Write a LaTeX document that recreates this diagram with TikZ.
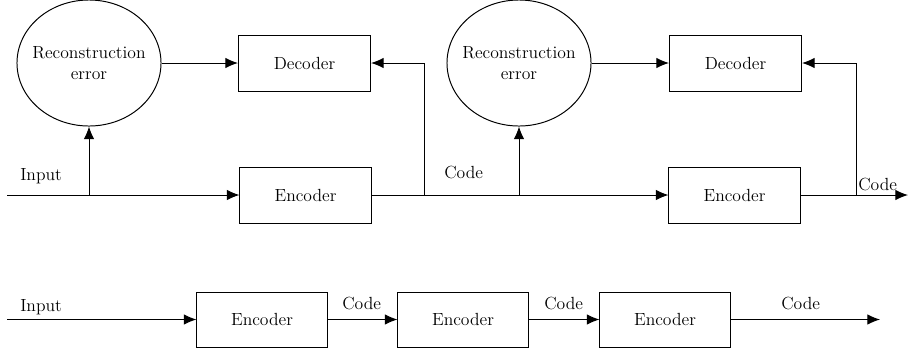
\documentclass[tikz,border=0pt]{standalone}
\usetikzlibrary{arrows.meta,shapes.geometric}

\newcommand{\blockfont}{\fontsize{12.5}{15}\selectfont}

\tikzset{
	block/.style={draw, rectangle, line width=0.7pt, minimum width=3.3cm, minimum height=1.4cm, font=\blockfont},
	errnode/.style={draw, ellipse, line width=0.7pt, inner xsep=-6pt, inner ysep=0pt, minimum width=3.6cm, minimum height=3.15cm, align=center, font=\blockfont},
	lbl/.style={anchor=base west, inner sep=0pt, font=\blockfont},
	arr/.style={-{Latex[length=9pt,width=7.5pt]}, line width=0.7pt}
}

\begin{document}
\begin{tikzpicture}[x=0.025cm, y=-0.025cm]
	\useasboundingbox (0,0) rectangle (908,351);

	% first stage
	\node[errnode] (err1) at (89,63) {Reconstruction\\error};
	\node[block] (dec1) at (304.5,63) {Decoder};
	\node[block, minimum width=3.275cm] (enc1) at (305.5,195) {Encoder};
	% second stage
	\node[errnode] (err2) at (519,63) {Reconstruction\\error};
	\node[block] (dec2) at (735.5,63) {Decoder};
	\node[block, minimum width=3.275cm] (enc2) at (734.5,195) {Encoder};

	\coordinate (in1) at (7,195);
	\coordinate (split1) at (89,195);
	\coordinate (split2) at (424,195);
	\coordinate (split3) at (519,195);
	\coordinate (split4) at (856,195);
	\coordinate (out1) at (908,195);

	\draw[arr] (in1) -- (enc1);
	\draw[arr] (split1) -- (err1);
	\draw[arr] (err1) -- (dec1);
	\draw[arr] (enc1) -- (enc2);
	\draw[arr] (split2) |- (dec1);
	\draw[arr] (split3) -- (err2);
	\draw[arr] (err2) -- (dec2);
	\draw[arr] (enc2) -- (out1);
	\draw[arr] (split4) |- (dec2);

	\node[lbl] (in1lbl) at (20,180) {Input};
	\node[lbl] (code1) at (444,178) {Code};
	\node[lbl] (code2) at (858,190) {Code};

	% stacked encoders
	\node[block, minimum width=3.25cm, minimum height=1.375cm] (enc3) at (262,319.5) {Encoder};
	\node[block, minimum width=3.25cm, minimum height=1.375cm] (enc4) at (463,319.5) {Encoder};
	\node[block, minimum width=3.25cm, minimum height=1.375cm] (enc5) at (665,319.5) {Encoder};

	\coordinate (in2) at (7,319.5);
	\coordinate (out2) at (880,319.5);

	\draw[arr] (in2) -- (enc3);
	\draw[arr] (enc3) -- (enc4);
	\draw[arr] (enc4) -- (enc5);
	\draw[arr] (enc5) -- (out2);

	\node[lbl] (in2lbl) at (20,311) {Input};
	\node[lbl] (code3) at (342,309) {Code};
	\node[lbl] (code4) at (544,309) {Code};
	\node[lbl] (code5) at (781,309) {Code};
\end{tikzpicture}
\end{document}
